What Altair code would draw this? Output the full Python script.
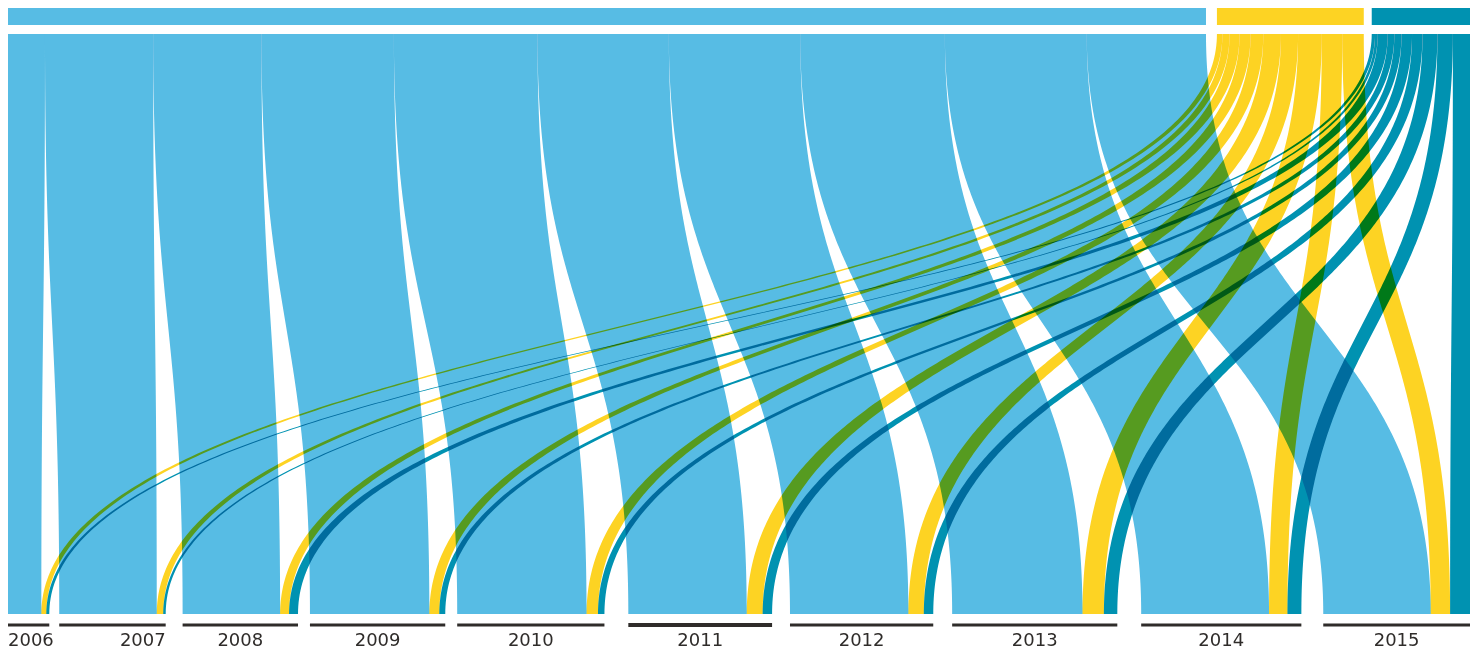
import altair as alt
import numpy as np
import pandas as pd

# ---------------- data ----------------
years = [2006, 2007, 2008, 2009, 2010, 2011, 2012, 2013, 2014, 2015]
categories = ["Blue group", "Yellow group", "Teal group"]
blue_vals = [33.5, 98, 98, 120, 130, 119, 119, 131, 128.5, 108]
yellow_vals = [5, 6.5, 9, 10, 11.5, 16, 15.5, 21.5, 18.5, 19.5]
teal_vals = [3, 2.5, 9, 6, 6.5, 9.5, 9.5, 13.5, 14, 20]
highlight_year = 2011

# ---------------- layout constants ----------------
W, H = 1462, 642            # drawing size in pixels
XU = 1469.5                 # horizontal extent in value units
colors = ["#57BCE4", "#FDD323", "#0092B1"]
bottom_gaps = [10, 17, 12, 12, 24, 18, 19, 24, 22]
top_gaps = [11, 8]
top_span = 1474.5
y_bar0, y_bar1 = 0, 17
y_top, y_bot = 26, 606
y_mid = (y_top + y_bot) / 2
N = 220

series = [blue_vals, yellow_vals, teal_vals]
totals = [sum(s) for s in series]
grand = sum(totals)
k = (top_span - sum(top_gaps)) / grand

# bottom positions
bottom = {}
year_rows = []
pos = 0.0
for i, yr in enumerate(years):
    start = pos
    for c in range(3):
        v = series[c][i]
        bottom[(c, i)] = (pos, pos + v)
        pos += v
    year_rows.append({"year": str(yr), "x0": start, "x1": pos,
                      "xc": (start + pos) / 2,
                      "b0": 615.0 if yr == highlight_year else 615.6,
                      "b1": 619.0 if yr == highlight_year else 618.6})
    if i < len(bottom_gaps):
        pos += bottom_gaps[i]

# top positions
top = {}
node_rows = []
pos = 0.0
for c in range(3):
    start = pos
    for i in range(len(years)):
        v = series[c][i] * k
        top[(c, i)] = (pos, pos + v)
        pos += v
    node_rows.append({"cat": categories[c], "x0": start, "x1": pos,
                      "y0": y_bar0, "y1": y_bar1})
    if c < len(top_gaps):
        pos += top_gaps[c]

# flow ribbons (vertical sankey links)
t = np.linspace(0, 1, N)
b0 = (1 - t) ** 3 + 3 * (1 - t) ** 2 * t
b1 = 3 * (1 - t) * t ** 2 + t ** 3
yy = y_bot * (1 - t) ** 3 + 3 * y_mid * (1 - t) ** 2 * t + 3 * y_mid * (1 - t) * t ** 2 + y_top * t ** 3
rows = []
for c in range(3):
    for i in range(len(years)):
        xb0, xb1 = bottom[(c, i)]
        xt0, xt1 = top[(c, i)]
        xl = xb0 * b0 + xt0 * b1
        xr = xb1 * b0 + xt1 * b1
        fid = f"{c}-{years[i]}"
        for j in range(N):
            rows.append({"flow": fid, "cat": categories[c],
                         "y": float(yy[j]), "x": float(xl[j]), "x2": float(xr[j])})
flows = pd.DataFrame(rows)
nodes = pd.DataFrame(node_rows)
yrs = pd.DataFrame(year_rows)
yrs["ly"] = 637.5

xs = alt.Scale(domain=[0, XU], nice=False, zero=False)
ys = alt.Scale(domain=[0, H], nice=False, zero=False, reverse=True)
cs = alt.Scale(domain=categories, range=colors)

top_bars = alt.Chart(nodes).mark_rect().encode(
    x=alt.X("x0:Q", scale=xs, axis=None), x2="x1:Q",
    y=alt.Y("y0:Q", scale=ys, axis=None), y2="y1:Q",
    color=alt.Color("cat:N", scale=cs, legend=None),
)

ribbons = alt.Chart(flows).mark_area(orient="horizontal", blend="multiply", interpolate="linear").encode(
    y=alt.Y("y:Q", scale=ys, axis=None),
    x=alt.X("x:Q", scale=xs, axis=None, stack=None), x2="x2:Q",
    color=alt.Color("cat:N", scale=cs, legend=None),
    detail="flow:N",
)

year_bars = alt.Chart(yrs).mark_rect(color="#2F2C2A").encode(
    x=alt.X("x0:Q", scale=xs, axis=None), x2="x1:Q",
    y=alt.Y("b0:Q", scale=ys, axis=None), y2="b1:Q",
)

txt = dict(font="DejaVu Sans", fontSize=18, color="#2F2C2A", baseline="alphabetic")
lab_left = alt.Chart(yrs).transform_filter(alt.datum.year == "2006").mark_text(align="left", **txt).encode(
    x=alt.X("x0:Q", scale=xs, axis=None), y=alt.Y("ly:Q", scale=ys, axis=None), text="year:N")
lab_right = alt.Chart(yrs).transform_filter(alt.datum.year == "2007").mark_text(align="right", **txt).encode(
    x=alt.X("x1:Q", scale=xs, axis=None), y=alt.Y("ly:Q", scale=ys, axis=None), text="year:N")
lab_center = alt.Chart(yrs).transform_filter((alt.datum.year != "2006") & (alt.datum.year != "2007")).mark_text(
    align="center", **txt).encode(
    x=alt.X("xc:Q", scale=xs, axis=None), y=alt.Y("ly:Q", scale=ys, axis=None), text="year:N")

chart = alt.layer(top_bars, ribbons, year_bars, lab_left, lab_right, lab_center).properties(
    width=W, height=H, autosize=alt.AutoSizeParams(type="none"), padding=0,
).configure_view(stroke=None)

chart.save("out.html", embed_options={"renderer": "svg", "actions": False})
